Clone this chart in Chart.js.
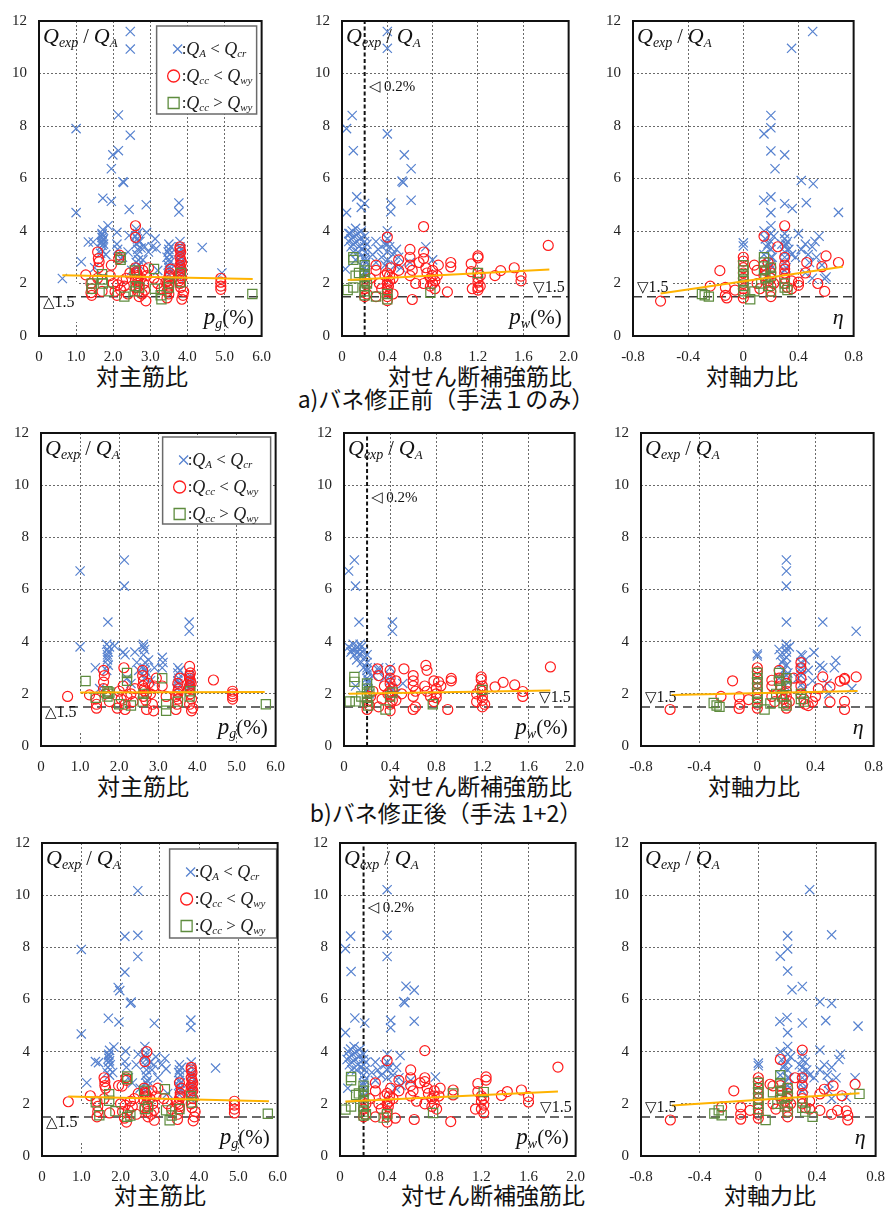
<!DOCTYPE html>
<html><head><meta charset="utf-8">
<script src="https://cdn.jsdelivr.net/npm/chart.js@4.4.1/dist/chart.umd.min.js"></script>
<style>
html,body{margin:0;padding:0;background:#fff;}
body{width:890px;height:1209px;position:relative;overflow:hidden;}
canvas{position:absolute;}
.cap{position:absolute;transform:translate(-50%,-50%);font-family:"Noto Sans CJK JP","Noto Sans",sans-serif;font-size:23px;line-height:1;white-space:nowrap;color:#111;}
</style></head><body>
<div class="cap" style="left:142px;top:375px">対主筋比</div>
<div class="cap" style="left:480px;top:375px">対せん断補強筋比</div>
<div class="cap" style="left:752px;top:375px">対軸力比</div>
<div class="cap" style="left:446px;top:398px">a)バネ修正前（手法１のみ）</div>
<div class="cap" style="left:143px;top:785px">対主筋比</div>
<div class="cap" style="left:480px;top:785px">対せん断補強筋比</div>
<div class="cap" style="left:754px;top:785px">対軸力比</div>
<div class="cap" style="left:446px;top:812px">b)バネ修正後（手法 1+2）</div>
<div class="cap" style="left:160px;top:1194px">対主筋比</div>
<div class="cap" style="left:493px;top:1194px">対せん断補強筋比</div>
<div class="cap" style="left:770px;top:1194px">対軸力比</div>
<script>
// ---------------- axes / reference values ----------------
const AXIS_PG  = {min:0, max:6, step:1};
const AXIS_PW  = {min:0, max:2, step:0.4};
const AXIS_ETA = {min:-0.8, max:0.8, step:0.4};
const AXIS_Y   = {min:0, max:12, step:2};
const LIMIT_RATIO = 1.5;
const PW_LIMIT = 0.2;

// ---------------- a) method 1 only ----------------
const pgA_cross = [[0.63,2.19],[1.0,7.9],[1.0,4.7],[1.14,2.83],[1.33,3.58],[1.46,3.58],[1.5,2.6],
 [1.68,3.3],[1.7,3.45],[1.7,3.6],[1.7,3.75],[1.7,3.9],[1.72,4.05],[1.74,3.5],[1.74,3.7],[1.66,3.15],[1.72,5.25],[1.8,3.1],[1.86,4.2],[1.7,3.85],[1.72,3.65],[1.68,3.55],
 [1.95,5.13],[1.95,6.37],[1.99,6.9],[2.14,7.06],[2.14,8.42],[2.28,5.85],[2.26,5.88],
 [2.1,3.95],[2.1,3.5],[2.12,3.3],[2.2,2.95],[2.25,3.0],
 [2.43,4.82],[2.43,3.83],[2.46,7.65],[2.46,10.93],[2.46,11.6],[2.4,3.2],[2.5,2.5],
 [2.62,4.08],[2.65,3.9],[2.65,3.7],[2.62,3.5],[2.66,3.3],[2.64,3.1],[2.68,2.9],[2.7,2.7],[2.63,2.6],[2.72,3.6],[2.75,3.35],[2.6,3.8],[2.62,2.8],[2.68,3.6],
 [2.89,5.0],[2.9,3.95],[2.85,3.4],[2.95,3.2],[2.8,2.9],
 [3.13,3.7],[3.16,3.33],[3.05,3.4],[3.2,2.5],
 [3.5,3.5],[3.5,3.3],[3.52,3.1],[3.5,2.9],[3.48,2.7],[3.52,2.5],[3.5,2.35],[3.55,3.4],[3.45,3.0],[3.5,2.6],[3.52,2.8],[3.48,3.2],
 [3.77,5.07],[3.77,4.72],[3.8,3.6],[3.8,3.4],[3.78,3.2],[3.82,3.0],[3.8,2.8],[3.8,2.6],[3.85,2.4],[3.78,2.2],[3.83,3.3],[3.8,3.1],[3.78,2.9],[3.82,2.7],[3.8,2.5],
 [4.4,3.37],[4.93,2.4]];
const pgA_circle = [[1.26,2.33],[1.4,2.0],[1.42,1.8],[1.42,1.55],[1.4,1.65],
 [1.58,3.2],[1.6,2.95],[1.62,2.83],[1.6,2.6],[1.58,2.2],[1.7,1.7],
 [1.95,2.7],[1.92,2.3],[2.0,2.0],[2.05,1.7],[2.17,3.08],[2.15,2.95],[2.12,1.95],[2.2,1.75],[2.1,1.55],[2.25,2.1],[2.3,1.9],[2.35,2.2],[2.4,1.6],[2.45,2.4],
 [2.6,4.2],[2.6,3.76],[2.6,2.6],[2.62,2.45],[2.65,2.3],[2.6,2.15],[2.66,2.0],[2.62,1.85],[2.68,1.7],[2.7,1.5],[2.75,2.2],[2.8,2.5],[2.82,2.0],[2.85,1.75],[2.88,1.34],[2.9,2.3],[2.95,2.6],[2.78,1.6],[2.64,2.4],[2.66,2.1],[2.7,1.9],
 [3.1,2.2],[3.2,2.0],[3.3,1.8],
 [3.45,1.45],[3.45,1.7],[3.5,1.9],[3.48,2.1],[3.5,2.25],[3.52,2.4],[3.55,2.55],[3.42,2.05],[3.5,1.6],[3.5,2.0],[3.48,1.8],[3.52,2.3],
 [3.8,3.4],[3.82,3.2],[3.8,3.0],[3.84,2.8],[3.82,2.6],[3.8,2.4],[3.85,2.2],[3.8,2.0],[3.82,1.85],[3.9,1.7],[3.88,1.55],[3.85,1.4],[3.78,2.1],[3.8,3.3],[3.82,2.9],[3.8,2.7],[3.84,2.5],[3.82,2.3],
 [4.9,2.2],[4.9,2.05],[4.9,1.9],[4.9,1.78]];
const pgA_square = [[1.42,2.0],[1.42,1.8],[1.7,2.35],[1.7,2.15],[1.72,2.0],[1.88,1.7],[2.2,3.0],[2.2,2.9],[2.3,1.5],[2.58,2.5],[2.6,1.9],[2.58,1.7],[2.7,1.85],[3.1,2.55],[3.12,1.8],[3.28,1.55],[3.3,1.4],[3.5,2.0],[3.5,1.85],[3.82,2.05],[3.82,2.4],[5.75,1.6]];
const pgA_trend = [[0.63,2.31],[5.76,2.17]];

const pwA_cross = [[0.03,2.55],[0.04,4.7],[0.04,7.9],[0.09,8.4],[0.1,7.06],[0.13,5.3],[0.17,4.9],[0.2,5.05],
 [0.06,3.6],[0.07,3.9],[0.08,3.7],[0.09,4.0],[0.1,3.5],[0.11,3.8],[0.12,4.1],[0.13,3.6],[0.14,3.9],[0.15,3.4],[0.16,3.7],[0.17,4.0],[0.18,3.3],[0.1,3.2],[0.12,2.9],[0.08,3.4],[0.14,3.2],[0.06,3.9],
 [0.2,3.8],[0.2,3.6],[0.2,3.4],[0.21,3.2],[0.2,3.0],[0.21,2.8],[0.2,2.6],[0.21,2.4],[0.2,2.2],[0.22,3.5],[0.2,2.9],[0.21,2.5],
 [0.27,3.1],[0.3,3.6],[0.32,3.3],[0.3,2.8],[0.35,3.0],[0.38,3.5],[0.4,4.0],[0.4,3.7],[0.4,3.2],[0.4,2.9],[0.42,3.4],[0.45,3.1],[0.48,3.3],[0.5,3.0],[0.47,2.7],[0.52,2.6],[0.4,3.5],[0.38,2.7],
 [0.4,11.6],[0.4,10.96],[0.4,7.7],[0.55,6.9],[0.61,6.37],[0.54,5.85],[0.53,5.9],[0.61,5.17],[0.43,5.07],[0.43,4.73],
 [0.6,2.8],[0.74,3.4],[0.8,2.9]];
const pwA_circle = [[0.2,1.5],[0.22,1.6],[0.2,1.8],[0.22,2.0],[0.25,2.2],[0.3,1.5],[0.3,2.5],[0.3,2.7],[0.33,2.0],[0.35,1.8],[0.38,2.3],[0.4,3.77],[0.4,1.35],[0.4,1.5],[0.4,1.7],[0.41,1.9],[0.42,2.1],[0.4,2.4],[0.43,2.6],[0.45,2.2],[0.45,1.6],[0.5,2.5],[0.5,2.9],[0.4,2.0],[0.42,2.3],[0.4,1.8],
 [0.6,3.3],[0.6,3.0],[0.6,2.7],[0.62,2.5],[0.6,2.3],[0.62,1.39],[0.65,2.0],[0.68,2.8],
 [0.72,4.17],[0.72,3.2],[0.72,2.95],[0.74,2.6],[0.72,2.0],[0.75,2.4],[0.78,2.2],[0.8,2.5],[0.8,2.0],[0.82,1.8],[0.84,2.3],[0.85,2.7],[0.78,1.9],[0.8,2.3],[0.82,2.1],
 [0.93,1.68],[0.96,2.8],[0.96,2.63],
 [1.14,2.75],[1.14,2.45],[1.15,1.8],[1.2,3.05],[1.2,2.98],[1.2,2.4],[1.2,2.2],[1.2,2.05],[1.22,1.9],[1.2,1.75],[1.22,2.3],[1.2,1.85],
 [1.35,2.3],[1.4,2.49],[1.52,2.6],[1.58,2.28],[1.58,2.1],[1.82,3.45]];
const pwA_square = [[0.05,1.75],[0.1,3.0],[0.1,2.9],[0.1,1.85],[0.12,2.3],[0.15,2.4],[0.2,2.7],[0.2,2.5],[0.2,2.3],[0.2,2.1],[0.2,1.9],[0.2,1.7],[0.2,1.55],[0.22,2.0],[0.3,1.5],[0.4,1.4],[0.4,1.6],[0.78,1.65],[1.2,2.4]];
const pwA_trend = [[0.05,2.13],[1.83,2.53]];

const etaA_cross = [[0.0,3.55],[0.0,3.43],
 [0.15,7.7],[0.2,8.4],[0.2,7.93],[0.2,7.05],[0.23,6.37],[0.3,6.9],[0.148,5.17],[0.2,5.3],[0.3,5.04],[0.355,4.86],[0.2,4.7],[0.35,10.96],[0.503,11.6],[0.42,5.92],[0.507,5.8],[0.457,5.08],[0.69,4.71],
 [0.15,4.0],[0.16,3.7],[0.17,3.4],[0.15,3.1],[0.18,2.8],[0.2,4.2],[0.2,3.9],[0.2,3.6],[0.2,3.3],[0.21,3.0],[0.2,2.7],[0.19,2.5],[0.22,3.8],[0.18,3.5],[0.2,3.0],[0.17,2.6],
 [0.28,3.5],[0.3,3.9],[0.3,3.7],[0.3,3.4],[0.3,3.2],[0.3,3.0],[0.3,2.8],[0.31,2.6],[0.32,3.6],[0.33,3.3],[0.35,3.1],[0.3,2.5],[0.31,3.5],
 [0.38,3.0],[0.4,3.9],[0.42,3.3],[0.45,3.5],[0.47,3.1],[0.48,2.8],[0.5,3.4],[0.52,3.6],[0.55,3.8],[0.53,3.0],[0.45,2.4],[0.5,2.2],[0.59,2.18],[0.6,2.25],[0.57,2.7]];
const etaA_circle = [[-0.6,1.33],[-0.24,1.9],[-0.17,2.49],[-0.13,1.85],[-0.13,1.55],[-0.12,1.45],[-0.06,1.75],
 [0.0,3.0],[0.0,2.85],[0.0,2.6],[0.0,2.4],[0.0,2.2],[0.0,2.0],[0.0,1.8],[0.0,1.6],[0.0,1.45],
 [0.08,2.7],[0.1,2.5],[0.1,2.0],[0.12,1.8],
 [0.15,3.8],[0.15,2.7],[0.16,2.5],[0.15,2.3],[0.18,2.1],[0.2,2.6],[0.2,2.4],[0.2,2.2],[0.2,1.9],[0.2,1.7],[0.2,1.5],[0.22,2.0],[0.25,3.4],[0.18,2.8],
 [0.3,4.2],[0.3,3.0],[0.3,2.7],[0.3,2.4],[0.3,2.2],[0.3,2.0],[0.32,1.85],[0.35,1.8],[0.35,2.1],[0.3,2.55],
 [0.4,1.93],[0.4,2.05],[0.46,2.8],[0.54,2.0],[0.57,2.64],[0.59,1.7],[0.6,3.05],[0.69,2.8],[0.45,2.4]];
const etaA_square = [[-0.3,1.6],[-0.28,1.55],[-0.25,1.5],[0.0,2.7],[0.0,2.5],[0.0,2.3],[0.0,2.1],[0.0,1.9],[0.0,1.7],[0.05,1.4],[0.08,1.7],[0.13,2.0],[0.15,3.0],[0.15,2.8],[0.15,2.5],[0.16,2.2],[0.18,1.9],[0.2,1.7],[0.2,2.6],[0.2,2.3],[0.3,2.0],[0.3,1.85],[0.32,1.75]];
const etaA_trend = [[-0.6,1.62],[0.72,2.64]];

// ---------------- b) method 1+2 ----------------
const pgB_cross = [[1.0,6.71],[1.0,3.8],[2.13,7.13],[2.13,6.13],[1.71,4.75],[3.79,4.75],[3.79,4.4],
 [1.39,3.0],[1.5,2.2],
 [1.68,3.9],[1.7,3.7],[1.7,3.5],[1.7,3.3],[1.72,3.1],[1.68,2.9],[1.75,3.8],[1.88,3.84],[1.72,3.6],[1.7,3.4],
 [2.1,3.6],[2.15,3.5],[2.2,2.6],[2.3,2.4],[2.4,3.6],[2.45,3.2],[2.5,2.9],
 [2.62,3.9],[2.65,3.7],[2.62,3.5],[2.66,3.2],[2.64,3.0],[2.7,2.8],[2.65,2.6],[2.75,3.3],[2.8,2.5],[2.62,3.8],[2.66,2.9],
 [2.9,3.0],[3.1,3.4],[3.12,3.2],[3.1,3.0],
 [3.5,3.0],[3.5,2.8],[3.52,2.6],[3.5,2.4],[3.48,2.2],[3.55,2.9],[3.5,2.5],
 [3.8,2.7],[3.8,2.5],[3.82,2.3],[3.78,2.2],[3.8,2.6],[3.8,2.4]];
const pgB_circle = [[0.68,1.9],[1.24,1.96],[1.4,1.8],[1.42,1.6],[1.42,1.45],[1.6,2.9],[1.62,2.7],[1.6,2.45],[1.6,2.2],[1.65,2.0],[1.75,1.7],
 [1.95,1.45],[2.0,2.1],[2.05,1.8],[2.12,3.0],[2.1,2.3],[2.15,1.6],[2.15,1.4],[2.2,1.9],[2.3,2.0],[2.35,1.7],[2.4,2.2],
 [2.6,2.9],[2.6,2.7],[2.62,2.5],[2.6,2.3],[2.65,2.1],[2.62,1.9],[2.68,1.75],[2.7,1.4],[2.75,2.4],[2.8,2.0],[2.85,1.6],[2.88,1.35],[2.9,2.3],[2.95,2.6],[2.64,2.2],[2.7,2.0],
 [3.1,2.3],[3.2,1.9],
 [3.45,1.4],[3.48,1.6],[3.5,1.8],[3.5,2.0],[3.52,2.2],[3.5,2.4],[3.55,2.6],[3.45,1.9],[3.5,2.1],
 [3.8,3.05],[3.82,2.8],[3.8,2.6],[3.84,2.4],[3.8,2.2],[3.82,2.0],[3.85,1.8],[3.8,1.6],[3.88,1.45],[3.85,1.35],[3.8,2.7],[3.82,2.5],[3.8,2.3],
 [4.41,2.53],[4.9,2.1],[4.9,2.0],[4.9,1.9],[4.9,1.8]];
const pgB_square = [[1.14,2.49],[1.4,1.85],[1.7,2.1],[1.72,2.0],[1.7,1.9],[1.75,2.05],[2.0,1.6],[2.2,2.8],[2.2,2.5],[2.3,1.55],[2.6,1.7],[2.62,2.0],[3.1,2.6],[3.2,1.35],[3.2,1.6],[3.5,1.7],[3.8,1.9],[3.82,2.1],[5.75,1.6]];
const pgB_trend = [[1.0,2.05],[5.72,2.07]];

const pwB_cross = [[0.04,6.71],[0.09,7.13],[0.1,6.13],[0.13,4.75],[0.42,4.75],[0.42,4.4],[0.04,3.8],
 [0.06,3.6],[0.08,3.9],[0.09,3.5],[0.1,3.7],[0.11,3.3],[0.12,3.8],[0.13,3.5],[0.14,3.9],[0.15,3.2],[0.16,3.6],[0.17,3.0],[0.18,3.4],[0.1,2.3],[0.07,3.7],[0.12,3.6],[0.15,3.8],
 [0.2,3.5],[0.2,3.2],[0.2,3.0],[0.21,2.8],[0.2,2.6],[0.21,2.4],[0.2,2.2],[0.22,2.0],[0.2,2.9],[0.21,2.5],
 [0.3,2.9],[0.3,3.0],[0.35,2.6],[0.4,3.0],[0.4,2.7],[0.4,2.5],[0.42,2.2],[0.45,2.0],[0.51,2.4],[0.25,2.7]];
const pwB_circle = [[0.2,1.4],[0.22,1.55],[0.2,1.7],[0.23,1.9],[0.25,2.1],[0.29,2.96],[0.3,2.7],[0.3,1.5],[0.33,1.8],[0.35,2.3],[0.38,2.0],[0.4,2.9],[0.4,2.6],[0.4,2.4],[0.42,2.2],[0.4,1.9],[0.4,1.6],[0.4,1.35],[0.45,2.5],[0.45,1.75],[0.52,2.96],[0.5,2.0],[0.4,2.1],[0.42,1.75],
 [0.6,2.7],[0.6,2.5],[0.6,2.3],[0.62,2.1],[0.6,1.9],[0.62,1.5],[0.6,1.4],
 [0.71,3.09],[0.72,2.9],[0.7,2.3],[0.72,2.1],[0.75,1.9],[0.78,1.7],[0.8,2.2],[0.8,2.0],[0.82,2.46],[0.84,2.3],[0.78,2.5],[0.8,1.85],
 [0.9,1.4],[0.93,2.59],[0.93,2.5],
 [1.15,2.0],[1.15,1.7],[1.19,2.65],[1.19,2.55],[1.2,2.3],[1.2,2.1],[1.2,1.9],[1.2,1.75],[1.22,1.6],[1.2,1.5],[1.18,2.2],
 [1.31,2.27],[1.38,2.44],[1.48,2.34],[1.55,2.09],[1.55,1.9],[1.79,3.03]];
const pwB_square = [[0.05,1.71],[0.09,2.65],[0.09,2.46],[0.1,1.71],[0.15,1.9],[0.2,2.4],[0.2,2.2],[0.2,2.0],[0.2,1.85],[0.2,1.7],[0.21,1.55],[0.22,2.1],[0.36,1.4],[0.4,1.9],[0.42,2.05],[0.77,1.6],[1.2,2.15]];
const pwB_trend = [[0.04,2.0],[1.79,2.13]];

const etaB_cross = [[0.2,7.13],[0.2,6.71],[0.2,6.13],[0.2,4.75],[0.45,4.75],[0.68,4.4],[0.0,3.53],[0.0,3.45],
 [0.15,3.7],[0.16,3.5],[0.17,3.2],[0.18,2.9],[0.15,2.6],[0.2,3.9],[0.2,3.75],[0.2,3.6],[0.2,3.4],[0.2,3.1],[0.21,2.8],[0.2,2.5],[0.19,2.3],[0.22,3.8],[0.18,3.3],[0.2,2.7],
 [0.28,2.6],[0.3,3.5],[0.3,3.2],[0.3,3.0],[0.3,2.7],[0.31,2.4],[0.32,2.2],[0.31,3.46],[0.33,3.3],[0.35,2.9],[0.39,3.59],[0.38,2.5],[0.3,2.85],
 [0.43,3.09],[0.45,3.0],[0.54,3.28],[0.53,3.0],[0.49,2.0],[0.65,2.2],[0.48,2.4]];
const etaB_circle = [[-0.6,1.4],[-0.25,1.9],[-0.17,2.5],[-0.125,1.88],[-0.125,1.44],[-0.12,1.6],[-0.06,1.78],
 [0.0,3.0],[0.0,2.85],[0.0,2.6],[0.0,2.4],[0.0,2.2],[0.0,2.0],[0.0,1.8],[0.0,1.6],[0.0,1.45],
 [0.1,2.52],[0.1,2.3],[0.1,1.9],[0.12,1.7],
 [0.15,2.9],[0.15,2.6],[0.16,2.3],[0.17,2.0],[0.18,1.8],[0.2,2.4],[0.2,2.1],[0.2,1.9],[0.2,1.6],[0.2,1.45],[0.22,1.7],[0.25,2.6],
 [0.3,3.2],[0.3,3.0],[0.3,2.6],[0.3,2.3],[0.3,2.0],[0.32,1.8],[0.33,1.6],[0.35,1.55],[0.38,1.7],[0.4,1.9],[0.42,2.2],
 [0.45,2.65],[0.5,2.27],[0.5,1.69],[0.57,2.49],[0.6,2.59],[0.6,2.55],[0.6,1.71],[0.6,1.4],[0.68,2.65]];
const etaB_square = [[-0.3,1.65],[-0.28,1.55],[-0.26,1.5],[0.0,2.8],[0.0,2.6],[0.0,2.4],[0.0,2.2],[0.0,2.0],[0.0,1.85],[0.0,1.7],[0.05,1.4],[0.09,1.63],[0.13,2.0],[0.15,2.8],[0.15,2.5],[0.16,2.2],[0.17,1.9],[0.18,1.65],[0.2,1.55],[0.2,2.6],[0.2,2.3],[0.3,2.0],[0.3,1.8],[0.32,1.7]];
const etaB_trend = [[-0.59,1.96],[0.69,2.11]];

// ---------------- c) third row ----------------
const pgC_cross = [[1.0,7.92],[1.0,4.68],[1.14,2.81],[1.36,3.62],[1.44,3.58],
 [1.66,3.2],[1.68,3.4],[1.7,3.6],[1.7,3.75],[1.7,3.9],[1.72,4.05],[1.74,3.5],[1.72,3.1],[1.69,5.28],[1.8,3.2],[1.83,4.18],[1.7,3.85],[1.72,3.65],
 [1.94,6.46],[1.98,6.34],[1.96,5.14],[2.11,7.05],[2.11,8.42],[2.25,5.86],[2.27,5.9],
 [2.13,4.02],[2.11,3.62],[2.15,3.4],[2.2,3.0],[2.3,2.8],
 [2.44,10.17],[2.44,8.46],[2.44,7.65],[2.45,3.9],[2.4,3.5],[2.5,2.6],
 [2.62,4.2],[2.65,3.95],[2.65,3.7],[2.62,3.5],[2.66,3.3],[2.64,3.1],[2.68,2.9],[2.7,2.7],[2.63,2.5],[2.75,3.6],[2.8,3.3],[2.62,3.8],[2.66,2.8],
 [2.86,5.09],[2.9,3.8],[2.85,3.5],[2.95,3.0],
 [3.13,3.74],[3.16,3.34],[3.05,3.5],[3.2,2.4],
 [3.5,3.5],[3.5,3.3],[3.52,3.1],[3.5,2.9],[3.48,2.7],[3.52,2.5],[3.5,2.35],[3.55,3.4],[3.5,2.6],[3.52,2.8],[3.48,3.2],
 [3.79,5.21],[3.79,4.93],[3.8,3.6],[3.8,3.4],[3.78,3.2],[3.82,3.0],[3.8,2.8],[3.8,2.6],[3.85,2.4],[3.78,2.2],[3.8,3.1],[3.82,2.7],[3.8,2.5],
 [4.42,3.37]];
const pgC_circle = [[0.67,2.08],[1.23,2.31],[1.4,2.1],[1.42,1.9],[1.42,1.7],[1.4,1.5],
 [1.58,3.0],[1.6,2.85],[1.6,2.7],[1.62,2.6],[1.58,2.2],[1.72,1.65],
 [1.95,2.7],[2.04,2.68],[2.0,2.0],[2.05,1.7],[2.14,3.0],[2.15,2.9],[2.12,1.95],[2.2,1.75],[2.15,1.3],[2.1,1.45],[2.25,2.1],[2.3,1.9],[2.35,2.2],[2.4,1.6],[2.45,2.4],
 [2.67,4.0],[2.62,3.62],[2.6,2.6],[2.62,2.45],[2.65,2.3],[2.6,2.15],[2.66,2.0],[2.62,1.85],[2.68,1.7],[2.7,1.5],[2.75,2.2],[2.8,2.5],[2.82,2.0],[2.85,1.75],[2.86,1.37],[2.9,2.3],[2.95,2.6],[2.78,1.6],[2.64,2.4],[2.7,1.9],
 [3.1,2.2],[3.2,2.0],[3.3,1.8],
 [3.45,1.4],[3.45,1.6],[3.5,1.8],[3.48,2.0],[3.5,2.2],[3.52,2.4],[3.55,2.6],[3.5,2.8],[3.42,2.05],[3.5,1.9],[3.52,2.3],
 [3.8,3.4],[3.82,3.2],[3.8,3.0],[3.84,2.8],[3.82,2.6],[3.8,2.4],[3.85,2.2],[3.8,2.0],[3.82,1.85],[3.9,1.7],[3.88,1.5],[3.85,1.35],[3.8,3.3],[3.82,2.9],[3.8,2.7],[3.84,2.5],
 [4.9,2.1],[4.9,1.95],[4.9,1.8],[4.9,1.65]];
const pgC_square = [[1.37,2.06],[1.46,1.56],[1.71,2.37],[1.71,2.12],[1.87,1.72],[2.17,3.05],[2.17,2.95],[2.17,1.5],[2.25,1.55],[2.6,2.5],[2.62,1.8],[2.7,1.9],[3.13,2.56],[3.16,1.75],[3.25,1.37],[3.3,1.55],[3.5,1.8],[3.8,2.3],[3.82,2.05],[5.75,1.62]];
const pgC_trend = [[0.67,2.28],[5.78,2.1]];

const pwC_cross = [[0.4,10.21],[0.046,7.95],[0.09,8.43],[0.094,7.07],[0.4,8.46],[0.4,7.65],[0.56,6.51],[0.63,6.36],[0.54,5.92],[0.55,5.88],[0.63,5.17],[0.43,5.2],[0.43,4.92],[0.046,4.73],[0.126,5.29],[0.21,5.1],
 [0.066,2.6],
 [0.06,3.7],[0.07,4.0],[0.08,3.8],[0.09,4.1],[0.1,3.6],[0.11,3.9],[0.12,4.2],[0.13,3.7],[0.14,4.0],[0.15,3.5],[0.16,3.8],[0.17,4.1],[0.18,3.4],[0.1,3.3],[0.08,3.5],[0.14,3.3],
 [0.2,3.9],[0.2,3.7],[0.2,3.5],[0.21,3.3],[0.2,3.1],[0.21,2.9],[0.2,2.7],[0.21,2.5],[0.2,2.3],[0.22,3.6],[0.2,2.8],
 [0.27,3.2],[0.3,3.6],[0.32,3.3],[0.3,2.9],[0.35,3.1],[0.38,3.5],[0.4,3.9],[0.4,3.3],[0.4,3.0],[0.42,3.4],[0.45,3.1],[0.48,3.4],[0.5,3.0],[0.51,3.85],[0.52,2.7],[0.47,2.6],[0.4,3.6],
 [0.6,2.9],[0.81,3.03]];
const pwC_circle = [[0.2,1.5],[0.22,1.6],[0.2,1.8],[0.22,2.0],[0.25,2.2],[0.3,1.5],[0.3,2.5],[0.3,2.8],[0.33,2.0],[0.35,1.8],[0.38,2.3],[0.4,3.66],[0.4,1.3],[0.4,1.5],[0.4,1.7],[0.41,1.9],[0.42,2.1],[0.4,2.4],[0.43,2.6],[0.45,2.2],[0.47,1.45],[0.5,2.5],[0.5,2.9],[0.4,2.0],[0.42,2.3],
 [0.6,3.3],[0.6,3.0],[0.6,2.7],[0.62,2.5],[0.6,2.3],[0.63,1.4],[0.65,2.1],[0.68,2.8],
 [0.72,4.04],[0.72,3.0],[0.72,2.85],[0.74,2.6],[0.72,2.0],[0.75,2.4],[0.78,2.2],[0.8,2.5],[0.8,2.0],[0.82,1.8],[0.84,2.3],[0.85,2.6],[0.78,1.9],[0.8,2.3],
 [0.94,1.32],[0.96,2.53],[0.96,2.34],
 [1.17,2.78],[1.17,2.47],[1.15,1.8],[1.24,3.03],[1.24,2.91],[1.2,2.3],[1.2,2.1],[1.22,1.95],[1.2,1.8],[1.22,1.65],[1.22,2.2],
 [1.37,2.32],[1.42,2.47],[1.54,2.53],[1.6,2.28],[1.6,2.07],[1.85,3.41]];
const pwC_square = [[0.046,1.78],[0.094,3.03],[0.094,2.9],[0.094,1.9],[0.137,2.34],[0.16,2.4],[0.2,2.7],[0.2,2.5],[0.2,2.3],[0.2,2.1],[0.2,1.9],[0.2,1.7],[0.2,1.55],[0.22,1.6],[0.37,1.47],[0.4,1.6],[0.79,1.65],[0.96,2.4],[1.22,2.45]];
const pwC_trend = [[0.046,2.09],[1.85,2.47]];

const etaC_cross = [[0.35,10.21],[0.2,8.44],[0.5,8.48],[0.2,7.94],[0.15,7.66],[0.2,7.09],[0.3,6.5],[0.23,6.37],[0.147,5.16],[0.196,5.31],[0.3,5.1],[0.2,4.73],[0.42,5.91],[0.5,5.85],[0.46,5.19],[0.68,4.98],
 [0.0,3.56],[0.0,3.46],
 [0.15,4.0],[0.16,3.7],[0.17,3.4],[0.15,3.1],[0.18,2.8],[0.2,4.2],[0.2,3.9],[0.2,3.6],[0.2,3.3],[0.21,3.0],[0.2,2.7],[0.19,2.5],[0.22,3.8],[0.18,3.5],[0.2,3.0],
 [0.28,3.5],[0.3,3.9],[0.3,3.7],[0.3,3.4],[0.3,3.2],[0.3,3.0],[0.3,2.8],[0.31,2.6],[0.32,3.6],[0.33,3.3],[0.35,3.1],[0.3,2.5],
 [0.38,3.0],[0.42,4.06],[0.42,3.3],[0.45,3.5],[0.47,3.1],[0.48,2.8],[0.5,3.4],[0.55,3.7],[0.56,3.9],[0.53,3.0],[0.5,2.2],[0.66,3.0],[0.6,2.25],[0.48,2.5]];
const etaC_circle = [[-0.6,1.38],[-0.25,1.88],[-0.167,2.5],[-0.12,1.88],[-0.12,1.41],[-0.12,1.6],[-0.056,1.75],
 [0.0,3.0],[0.0,2.85],[0.0,2.6],[0.0,2.4],[0.0,2.2],[0.0,2.0],[0.0,1.8],[0.0,1.6],[0.0,1.45],
 [0.08,2.75],[0.1,2.69],[0.1,2.0],[0.12,1.8],
 [0.15,3.7],[0.15,2.7],[0.16,2.5],[0.15,2.3],[0.18,2.1],[0.2,2.6],[0.2,2.4],[0.2,2.2],[0.2,1.9],[0.2,1.7],[0.2,1.5],[0.22,2.0],[0.25,3.0],
 [0.3,4.06],[0.3,3.0],[0.3,2.7],[0.3,2.4],[0.3,2.2],[0.3,2.0],[0.32,1.85],[0.35,1.8],[0.35,2.1],
 [0.42,1.75],[0.42,2.38],[0.45,2.56],[0.5,1.6],[0.51,2.69],[0.54,1.75],[0.57,2.31],[0.6,1.73],[0.61,1.56],[0.61,1.38],[0.66,2.75]];
const etaC_square = [[-0.3,1.63],[-0.27,1.75],[-0.25,1.56],[0.0,2.8],[0.0,2.6],[0.0,2.4],[0.0,2.2],[0.0,2.0],[0.0,1.8],[0.05,1.38],[0.1,2.44],[0.13,2.0],[0.15,3.1],[0.15,2.8],[0.15,2.5],[0.16,2.2],[0.18,1.9],[0.2,1.7],[0.2,2.6],[0.2,2.3],[0.3,2.1],[0.3,1.85],[0.32,1.7],[0.37,1.5],[0.69,2.38]];
const etaC_trend = [[-0.59,1.94],[0.69,2.41]];

// ---------------- styling ----------------
const BLUE = '#5782CF', RED = '#FF1C1C', GREEN = '#5E8C3E', TREND = '#FFB300';
const SERIF = "'Liberation Serif', 'DejaVu Serif', serif";
const YW = 38, PT = 14, PR = 16, XH = 34;

const panels = [
 {kind:'pg',  box:[39,14,267,336],  c:pgA_cross,  r:pgA_circle,  s:pgA_square,  t:pgA_trend,  legend:{rm:5,w:100,tm:5,h:88}},
 {kind:'pw',  box:[342,14,574,336], c:pwA_cross,  r:pwA_circle,  s:pwA_square,  t:pwA_trend},
 {kind:'eta', box:[633,14,859,336], c:etaA_cross, r:etaA_circle, s:etaA_square, t:etaA_trend},
 {kind:'pg',  box:[41,426,281,746], c:pgB_cross,  r:pgB_circle,  s:pgB_square,  t:pgB_trend,  legend:{rm:5,w:108,tm:4,h:87}},
 {kind:'pw',  box:[344,426,580,746],c:pwB_cross,  r:pwB_circle,  s:pwB_square,  t:pwB_trend},
 {kind:'eta', box:[641,426,879,746],c:etaB_cross, r:etaB_circle, s:etaB_square, t:etaB_trend},
 {kind:'pg',  box:[42,836,283,1156],c:pgC_cross,  r:pgC_circle,  s:pgC_square,  t:pgC_trend,  legend:{rm:1,w:107,tm:6,h:89}},
 {kind:'pw',  box:[340,836,581,1156],c:pwC_cross, r:pwC_circle,  s:pwC_square,  t:pwC_trend},
 {kind:'eta', box:[641,836,881,1156],c:etaC_cross,r:etaC_circle, s:etaC_square, t:etaC_trend}
];
const AXES = {pg:AXIS_PG, pw:AXIS_PW, eta:AXIS_ETA};

const toXY = a => a.map(p => ({x:p[0], y:p[1]}));

function rich(ctx, x, y, parts, align){
  let w = 0;
  parts.forEach(p => { ctx.font = (p[2]?'italic ':'') + p[1] + 'px ' + SERIF; w += ctx.measureText(p[0]).width; });
  let cx = align === 'right' ? x - w : x;
  parts.forEach(p => {
    ctx.font = (p[2]?'italic ':'') + p[1] + 'px ' + SERIF;
    ctx.fillText(p[0], cx, y + (p[3]||0));
    cx += ctx.measureText(p[0]).width;
  });
}
function marker(ctx, style, x, y, color){
  ctx.save(); ctx.strokeStyle = color; ctx.lineWidth = 1.3; ctx.beginPath();
  if (style === 'cross'){ const h = 4.5; ctx.moveTo(x-h,y-h); ctx.lineTo(x+h,y+h); ctx.moveTo(x+h,y-h); ctx.lineTo(x-h,y+h); }
  else if (style === 'circle'){ ctx.arc(x,y,6,0,Math.PI*2); }
  else { ctx.rect(x-5.5,y-5.5,11,11); }
  ctx.stroke(); ctx.restore();
}

const decor = {
  id:'decor',
  beforeDatasetsDraw(chart, args, o){
    const ctx = chart.ctx, a = chart.chartArea;
    ctx.save(); ctx.fillStyle = '#fff';
    if (o.kind === 'pg') ctx.fillRect(a.left, a.bottom-54, 40, 40);
    else if (o.kind === 'pw') ctx.fillRect(a.right-40, a.bottom-68, 40, 28);
    else ctx.fillRect(a.left, a.bottom-68, 40, 28);
    ctx.restore();
  },
  afterDatasetsDraw(chart, args, o){
    const ctx = chart.ctx, a = chart.chartArea;
    ctx.save();
    ctx.fillStyle = '#111'; ctx.textBaseline = 'alphabetic';
    rich(ctx, a.left+4, a.top+22, [['Q',22,true,0],['exp',14,true,4],[' / ',20,false,0],['Q',22,true,0],['A',13,true,4]]);
    ctx.textBaseline = 'middle';
    if (o.kind === 'pg') rich(ctx, a.left+4, a.bottom-33, [['△',15,false,0],['1.5',16,false,0]]);
    else if (o.kind === 'pw') rich(ctx, a.right-4, a.bottom-48, [['▽',15,false,0],['1.5',16,false,0]], 'right');
    else rich(ctx, a.left+4, a.bottom-48, [['▽',15,false,0],['1.5',16,false,0]]);
    if (o.kind === 'pw'){
      const xs = chart.scales.x.getPixelForValue(PW_LIMIT), ys = chart.scales.y.getPixelForValue(9.5);
      rich(ctx, xs+4, ys, [['◁',15,false,0],[' 0.2%',15,false,0]]);
    }
    ctx.textBaseline = 'alphabetic';
    if (o.kind === 'pg') rich(ctx, a.right-8, a.bottom-12, [['p',23,true,0],['g',14,true,4],['(%)',21,false,0]], 'right');
    else if (o.kind === 'pw') rich(ctx, a.right-7, a.bottom-12, [['p',23,true,0],['w',14,true,4],['(%)',21,false,0]], 'right');
    else rich(ctx, a.right-10, a.bottom-12, [['η',22,true,0]], 'right');
    if (o.legend){
      const L = o.legend, bx = a.right - L.rm - L.w, by = a.top + L.tm;
      ctx.fillStyle = '#fff'; ctx.fillRect(bx, by, L.w, L.h);
      ctx.strokeStyle = '#6a6a6a'; ctx.lineWidth = 1.5; ctx.strokeRect(bx, by, L.w, L.h);
      const rows = [['cross',BLUE,'<',['A','cr']],['circle',RED,'<',['cc','wy']],['square',GREEN,'>',['cc','wy']]];
      rows.forEach((r,i) => {
        const ry = by + 23 + i*27;
        marker(ctx, r[0], bx + (r[0]==='cross'?21:17), ry, r[1]);
        ctx.fillStyle = '#222'; ctx.textBaseline = 'middle';
        rich(ctx, bx+25, ry+1, [[':',17,false,0],['Q',18,true,0],[r[3][0],11,true,4],[' '+r[2]+' ',17,false,0],['Q',18,true,0],[r[3][1],11,true,4]]);
      });
    }
    ctx.strokeStyle = '#111'; ctx.lineWidth = 2;
    ctx.strokeRect(a.left, a.top, a.right-a.left, a.bottom-a.top);
    ctx.restore();
  }
};

function fmt(v){ return Math.abs(v) < 1e-9 ? '0' : v.toFixed(1); }

panels.forEach(p => {
  const [L,T,R,B] = p.box, ax = AXES[p.kind];
  const cv = document.createElement('canvas');
  const W = R-L+YW+PR, H = B-T+PT+XH;
  cv.width = W; cv.height = H;
  cv.style.left = (L-YW)+'px'; cv.style.top = (T-PT)+'px';
  cv.style.width = W+'px'; cv.style.height = H+'px';
  document.body.appendChild(cv);
  const datasets = [
    {data:toXY(p.t), showLine:true, borderColor:TREND, borderWidth:2, pointRadius:0, order:0},
    {data:toXY(p.s), pointStyle:'rect', pointRadius:6.5, borderColor:GREEN, backgroundColor:'rgba(0,0,0,0)', pointBorderWidth:1.2, order:1},
    {data:toXY(p.r), pointStyle:'circle', pointRadius:5, borderColor:RED, backgroundColor:'rgba(0,0,0,0)', pointBorderWidth:1.2, order:2},
    {data:toXY(p.c), pointStyle:'crossRot', pointRadius:6.5, borderColor:BLUE, backgroundColor:BLUE, pointBorderWidth:1.2, order:3},
    {data:[{x:ax.min,y:LIMIT_RATIO},{x:ax.max,y:LIMIT_RATIO}], showLine:true, borderColor:'#3a3a3a', borderWidth:1.5, borderDash:[9,5], pointRadius:0, order:4}
  ];
  if (p.kind === 'pw') datasets.push({data:[{x:PW_LIMIT,y:AXIS_Y.min},{x:PW_LIMIT,y:AXIS_Y.max}], showLine:true, borderColor:'#111', borderWidth:2, borderDash:[4,2.5], pointRadius:0, order:4});
  const tickFont = {family:'Liberation Serif', size:15};
  new Chart(cv, {
    type:'scatter',
    data:{datasets},
    options:{
      responsive:false, animation:false, devicePixelRatio:1, events:[],
      font:{family:'Liberation Serif'},
      layout:{padding:{top:PT,right:PR,left:0,bottom:0}},
      plugins:{legend:{display:false}, tooltip:{enabled:false},
        decor:{kind:p.kind, legend:p.legend}},
      scales:{
        x:{type:'linear', min:ax.min, max:ax.max,
           ticks:{stepSize:ax.step, callback:fmt, font:tickFont, color:'#222', padding:12, maxRotation:0, autoSkip:false},
           grid:{color:'#6a6a6a', lineWidth:1, drawTicks:false}, border:{display:false, dash:[2,2]},
           afterFit:s => { s.height = XH; }},
        y:{min:AXIS_Y.min, max:AXIS_Y.max,
           ticks:{stepSize:AXIS_Y.step, callback:v => String(v), font:tickFont, color:'#222', padding:12, autoSkip:false},
           grid:{color:'#6a6a6a', lineWidth:1, drawTicks:false}, border:{display:false, dash:[2,2]},
           afterFit:s => { s.width = YW; }}
      }
    },
    plugins:[decor]
  });
});
</script></body></html>
